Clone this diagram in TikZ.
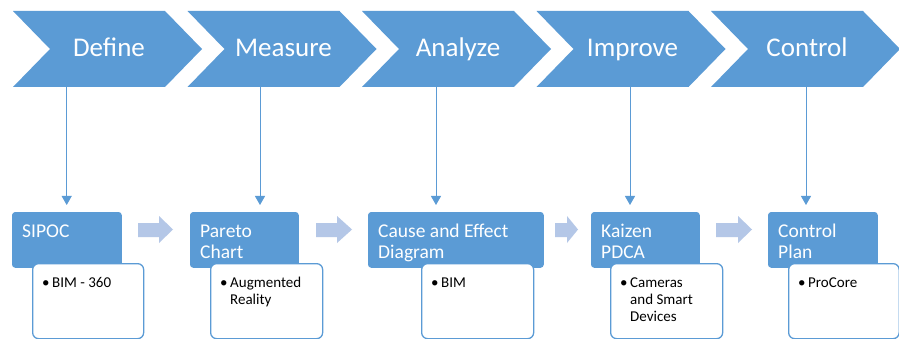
\documentclass[tikz,border=0pt]{standalone}
\usepackage{fontspec}
\setmainfont{Carlito}
\usetikzlibrary{arrows.meta}
\definecolor{sblue}{HTML}{5B9BD5}
\definecolor{lblue}{HTML}{B4C7E7}
\tikzset{
  chevtext/.style={anchor=base, inner sep=0pt, text=white, font=\fontsize{27}{30}\selectfont},
  bluebox/.style={draw=sblue, fill=sblue, rounded corners=3pt, line width=0.8pt},
  whitebox/.style={draw=sblue, fill=white, rounded corners=6pt, line width=1.3pt},
  boxtext/.style={anchor=base west, inner sep=0pt, text=white, font=\fontsize{19.5}{21}\selectfont},
  bultext/.style={anchor=base west, inner sep=0pt, text=black, font=\fontsize{15}{17}\selectfont},
  conn/.style={draw=sblue, line width=0.9pt, -{Triangle[width=10pt,length=9pt]}, shorten >=7pt},
  blockarrow/.style={fill=lblue}
}
\begin{document}
\begin{tikzpicture}[x=1pt,y=-1pt]
\useasboundingbox (0,0) rectangle (899,339);
\fill[white] (0,0) rectangle (899,339);
\clip (0,0) rectangle (899,339);
% chevrons
\foreach \i/\t in {0/Define,1/Measure,2/Analyze,3/Improve,4/Control}{
  \pgfmathsetmacro\L{13+174.5*\i}
  \fill[sblue] (\L,11) -- ++(152,0) -- ++(37,38) -- ++(-37,38) -- ++(-152,0) -- ++(37,-38) -- cycle;
  \node[chevtext] (c\i) at (\L+96,57) {\t};
}
% blue boxes
\node[bluebox, anchor=north west, minimum width=109pt, minimum height=55pt, inner sep=0pt] (b0) at (12,212) {};
\node[bluebox, anchor=north west, minimum width=108pt, minimum height=55pt, inner sep=0pt] (b1) at (190,212) {};
\node[bluebox, anchor=north west, minimum width=175pt, minimum height=55pt, inner sep=0pt] (b2) at (368,212) {};
\node[bluebox, anchor=north west, minimum width=108pt, minimum height=55pt, inner sep=0pt] (b3) at (591,212) {};
\node[bluebox, anchor=north west, minimum width=109pt, minimum height=55pt, inner sep=0pt] (b4) at (768,212) {};
\node[boxtext] (l0) at (22,237) {SIPOC};
\node[boxtext] (l1) at (200,237) {\parbox[t]{95pt}{\raggedright Pareto\\Chart}};
\node[boxtext] (l2) at (378,237) {\parbox[t]{165pt}{\raggedright Cause and Effect\\Diagram}};
\node[boxtext] (l3) at (601,237) {\parbox[t]{95pt}{\raggedright Kaizen\\PDCA}};
\node[boxtext] (l4) at (778,237) {\parbox[t]{95pt}{\raggedright Control\\Plan}};
% white boxes
\node[whitebox, anchor=north west, minimum width=111pt, minimum height=75pt, inner sep=0pt] (w0) at (32,263) {};
\node[whitebox, anchor=north west, minimum width=112pt, minimum height=75pt, inner sep=0pt] (w1) at (210,263) {};
\node[whitebox, anchor=north west, minimum width=112pt, minimum height=75pt, inner sep=0pt] (w2) at (421,263) {};
\node[whitebox, anchor=north west, minimum width=112pt, minimum height=75pt, inner sep=0pt] (w3) at (610,263) {};
\node[whitebox, anchor=north west, minimum width=110.5pt, minimum height=75pt, inner sep=0pt] (w4) at (788,263) {};
\foreach \k/\x/\txt in {0/32/{BIM - 360},1/210/{Augmented\\Reality},2/421/{BIM},3/610/{Cameras\\and Smart\\Devices},4/788/{ProCore}}{
  \node[bultext] (p\k) at (\x+10,287) {\textbullet};
  \node[bultext] (q\k) at (\x+20,287) {\parbox[t]{90pt}{\raggedright\txt}};
}
% connectors from chevrons
\coordinate (t0) at (66.7,87);
\coordinate (t1) at (260,87);
\coordinate (t2) at (436,87);
\coordinate (t3) at (630,87);
\coordinate (t4) at (806,87);
\foreach \k in {0,...,4}{
  \draw[conn] (t\k) -- (t\k |- b\k.north);
}
% block arrows
\foreach \a/\h/\e in {138/159/173, 316/337/352, 555/567/578, 716/738/752}{
  \fill[blockarrow] (\a,223) -- (\h,223) -- (\h,216) -- (\e,229.5) -- (\h,243) -- (\h,237) -- (\a,237) -- cycle;
}
\end{tikzpicture}
\end{document}
